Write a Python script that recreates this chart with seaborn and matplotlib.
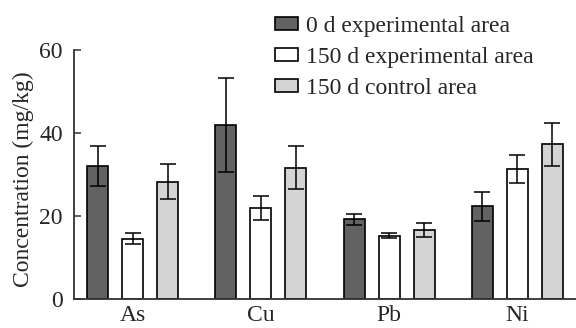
import pandas as pd
import matplotlib.pyplot as plt
import seaborn as sns

# --- DATA ---
elements = ['As', 'Cu', 'Pb', 'Ni']
groups = ['0 d experimental area', '150 d experimental area', '150 d control area']
day0_exp = [32.0, 42.0, 19.2, 22.3]
day150_exp = [14.5, 21.9, 15.2, 31.3]
day150_ctrl = [28.3, 31.6, 16.6, 37.3]
day0_exp_err = [4.8, 11.3, 1.3, 3.5]
day150_exp_err = [1.3, 2.8, 0.6, 3.4]
day150_ctrl_err = [4.2, 5.2, 1.6, 5.2]
colors = ['#626262', '#ffffff', '#d4d4d4']
# ----------------------------------

values = [day0_exp, day150_exp, day150_ctrl]
errors = [day0_exp_err, day150_exp_err, day150_ctrl_err]
df = pd.DataFrame({
    'Element': elements * 3,
    'Group': [g for g in groups for _ in elements],
    'Value': sum(values, []),
    'Err': sum(errors, []),
})

sns.set_style('ticks')
plt.rcParams['font.family'] = ['Liberation Serif', 'DejaVu Serif']
plt.rcParams['font.size'] = 17

fig = plt.figure(figsize=(5.76, 3.28), dpi=100)
ax = fig.add_axes([0.1285, 0.0884, 0.8715, 0.7592])

sns.barplot(data=df, x='Element', y='Value', hue='Group', order=elements,
            hue_order=groups, palette=colors, width=0.82, gap=0.4,
            edgecolor='black', linewidth=1.2, errorbar=None, ax=ax)

# error bars at the centre of each bar
for i, g in enumerate(groups):
    bars = ax.containers[i]
    xs = [b.get_x() + b.get_width() / 2 for b in bars]
    ax.errorbar(xs, values[i], yerr=errors[i], fmt='none', ecolor='black',
                elinewidth=1.1, capsize=6, capthick=1.1, zorder=5)

ax.set_ylim(0, 60)
ax.set_yticks([0, 20, 40, 60])
ax.set_xlim(-0.46, 3.46)
ax.set_xlabel('')
ax.set_ylabel('Concentration (mg/kg)', fontsize=17)
ax.yaxis.set_label_coords(-0.08, 0.48)
ax.tick_params(axis='both', direction='in', length=5, width=1.1, color='#333333',
               labelsize=17)
ax.tick_params(axis='y', pad=8)
ax.tick_params(axis='x', pad=4)

sns.despine(ax=ax, top=True, right=True)
for s in ['left', 'bottom']:
    ax.spines[s].set_linewidth(1.3)
    ax.spines[s].set_color('#333333')

handles, labels = ax.get_legend_handles_labels()
ax.legend(handles, labels, loc='upper left', bbox_to_anchor=(0.478, 0.952),
          bbox_transform=fig.transFigure, frameon=False, handlelength=0.95,
          handleheight=0.45, handletextpad=0.35, labelspacing=0.42,
          borderaxespad=0, borderpad=0, fontsize=17)

plt.savefig('out.png', dpi=100)
plt.close()
